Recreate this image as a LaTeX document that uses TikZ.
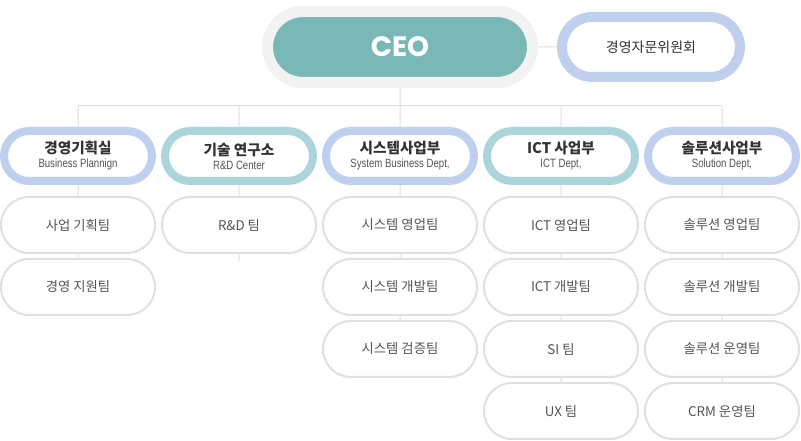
\documentclass[tikz,border=0pt]{standalone}
\usepackage{fontspec}
\setmainfont{Noto Sans CJK KR}
\newfontfamily\ceofont{Poppins}
\newfontfamily\subfont{Liberation Sans}[FakeStretch=0.8]
\usetikzlibrary{shapes.misc}

\definecolor{ceoteal}{HTML}{7AB8B8}
\definecolor{halogray}{HTML}{F2F2F2}
\definecolor{ringblue}{HTML}{BFD0EE}
\definecolor{ringteal}{HTML}{ABD5DA}
\definecolor{linegray}{HTML}{DDDDDD}
\definecolor{teamgray}{HTML}{E0E0E0}
\definecolor{darktext}{HTML}{333333}
\definecolor{teamtext}{HTML}{555555}

\tikzset{
  pill/.style={rounded rectangle,inner sep=0pt,fill=white,align=center},
  ceobox/.style={pill,draw=halogray,fill=ceoteal,line width=8.25pt,
    minimum width=198.75pt,minimum height=53.25pt,
    text=white,font=\ceofont\bfseries\fontsize{21}{22}\selectfont},
  advbox/.style={pill,draw=ringblue,line width=7.5pt,
    minimum width=133.5pt,minimum height=45pt,
    text=darktext,font=\fontsize{10.5}{12}\selectfont},
  deptbox/.style={pill,line width=6pt,minimum width=111pt,minimum height=37.5pt,
    text=darktext,font=\fontsize{11}{12}\selectfont},
  deptblue/.style={deptbox,draw=ringblue},
  deptteal/.style={deptbox,draw=ringteal},
  teambox/.style={pill,draw=teamgray,line width=1.5pt,
    minimum width=115.5pt,minimum height=42pt,
    text=teamtext,font=\fontsize{10}{12}\selectfont},
  conn/.style={draw=linegray,line width=0.75pt}
}
\newcommand{\depttitle}[2]{\textbf{#1}\\[-1.5pt]{\subfont\fontsize{9}{10}\selectfont\color{teamtext}#2}}

\begin{document}
\begin{tikzpicture}[x=0.75pt,y=-0.75pt]
  \useasboundingbox (0,0) rectangle (801,441);

  % top
  \node[ceobox] (ceo) at (400,47) {CEO};
  \node[advbox] (adv) at (651,47) {경영자문위원회};
  \coordinate (bar) at (400,106);

  % departments
  \node[deptblue] (d1) at (78,156) {\depttitle{경영기획실}{Business Plannign}};
  \node[deptteal] (d2) at (239,156) {\depttitle{기술 연구소}{R\&D Center}};
  \node[deptblue] (d3) at (400,156) {\depttitle{시스템사업부}{System Business Dept,}};
  \node[deptteal] (d4) at (561,156) {\depttitle{ICT 사업부}{ICT Dept,}};
  \node[deptblue] (d5) at (722,156) {\depttitle{솔루션사업부}{Solution Dept,}};

  % teams
  \node[teambox] (t11) at (78,225) {사업 기획팀};
  \node[teambox] (t12) at (78,287) {경영 지원팀};

  \node[teambox] (t21) at (239,225) {R\&D 팀};
  \coordinate (t2end) at (239,261);

  \node[teambox] (t31) at (400,225) {시스템 영업팀};
  \node[teambox] (t32) at (400,287) {시스템 개발팀};
  \node[teambox] (t33) at (400,349) {시스템 검증팀};

  \node[teambox] (t41) at (561,225) {ICT 영업팀};
  \node[teambox] (t42) at (561,287) {ICT 개발팀};
  \node[teambox] (t43) at (561,349) {SI 팀};
  \node[teambox] (t44) at (561,411) {UX 팀};

  \node[teambox] (t51) at (722,225) {솔루션 영업팀};
  \node[teambox] (t52) at (722,287) {솔루션 개발팀};
  \node[teambox] (t53) at (722,349) {솔루션 운영팀};
  \node[teambox] (t54) at (722,411) {CRM 운영팀};

  % connectors
  \draw[conn] (ceo) -- (adv);
  \draw[conn] (ceo) -- (bar);
  \draw[conn] (d1 |- bar) -- (d5 |- bar);
  \draw[conn] (d1 |- bar) -- (d1) -- (t11) -- (t12);
  \draw[conn] (d2 |- bar) -- (d2) -- (t21) -- (t2end);
  \draw[conn] (bar) -- (d3) -- (t31) -- (t32) -- (t33);
  \draw[conn] (d4 |- bar) -- (d4) -- (t41) -- (t42) -- (t43) -- (t44);
  \draw[conn] (d5 |- bar) -- (d5) -- (t51) -- (t52) -- (t53) -- (t54);
\end{tikzpicture}
\end{document}
